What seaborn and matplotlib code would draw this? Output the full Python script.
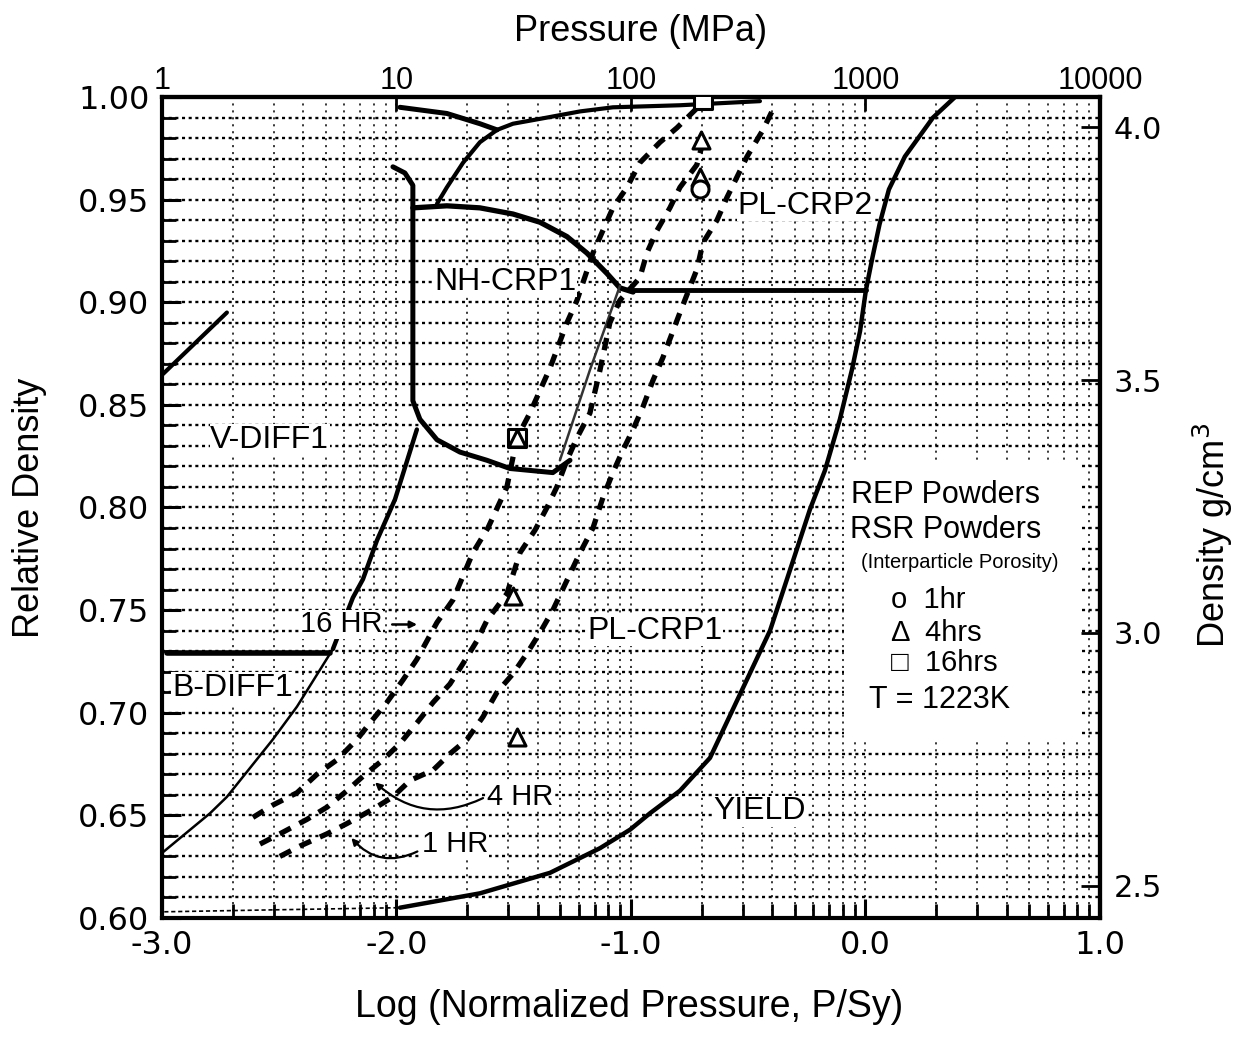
import numpy as np
import pandas as pd
import seaborn as sns
import matplotlib.pyplot as plt
from matplotlib.ticker import FixedLocator, MultipleLocator, FuncFormatter
from matplotlib.patches import Rectangle

sns.set_style("white")
plt.rcParams['font.family'] = ['Liberation Sans', 'DejaVu Sans']
plt.rcParams['lines.scale_dashes'] = False
for k in ['text.color', 'axes.labelcolor', 'xtick.color', 'ytick.color']:
    plt.rcParams[k] = 'black'

RHO_TH = 4.06  # g/cm3 at full density

# ---- curves: x = log10(P/Sy), y = relative density ----
yield_x = [-1.985, -1.644, -1.345, -1.132, -1.004, -0.919, -0.791, -0.663, -0.535, -0.407,
           -0.309, -0.237, -0.173, -0.109, -0.058, -0.023, 0.002, 0.030, 0.060, 0.100, 0.168,
           0.288, 0.382]
yield_y = [0.605, 0.612, 0.622, 0.634, 0.643, 0.651, 0.662, 0.678, 0.709, 0.740,
           0.774, 0.799, 0.818, 0.843, 0.867, 0.886, 0.906, 0.922, 0.938, 0.955, 0.971,
           0.990, 1.000]
yield_tail_x = [-2.99, -2.5, -1.985]
yield_tail_y = [0.603, 0.604, 0.605]

plcrp2_x = [-0.991, 0.002]
plcrp2_y = [0.906, 0.906]

dome_x = [-1.930, -1.785, -1.644, -1.503, -1.388, -1.273, -1.188, -1.102, -1.047, -0.991]
dome_y = [0.946, 0.947, 0.946, 0.943, 0.939, 0.932, 0.924, 0.914, 0.907, 0.905]

nh_low_x = [-2.015, -1.964, -1.930, -1.930, -1.900, -1.827, -1.729, -1.614, -1.516, -1.333, -1.260]
nh_low_y = [0.966, 0.963, 0.957, 0.852, 0.843, 0.833, 0.827, 0.823, 0.819, 0.817, 0.823]

hatch_x = [-1.047, -1.175, -1.303]
hatch_y = [0.908, 0.867, 0.823]

vdiff_x = [-1.913, -2.006, -2.083, -2.143, -2.186, -2.271]
vdiff_y = [0.838, 0.804, 0.784, 0.765, 0.756, 0.731]
bdiff_edge_x = [-2.271, -2.424, -2.527, -2.723, -2.795, -2.996]
bdiff_edge_y = [0.731, 0.703, 0.687, 0.659, 0.651, 0.632]
bdiff_x = [-2.98, -2.284]
bdiff_y = [0.729, 0.729]
vtop_x = [-2.996, -2.723]
vtop_y = [0.865, 0.895]

topA_x = [-1.985, -1.785, -1.644, -1.571]
topA_y = [0.995, 0.992, 0.987, 0.984]
topB_x = [-1.827, -1.785, -1.716, -1.644, -1.571, -1.503, -1.358, -1.217, -1.077, -0.791, -0.45]
topB_y = [0.948, 0.956, 0.968, 0.978, 0.984, 0.987, 0.990, 0.993, 0.995, 0.996, 0.998]

hr16_x = [-2.612, -2.527, -2.424, -2.339, -2.254, -2.168, -2.113, -2.041, -1.972, -1.913, -1.827,
          -1.759, -1.674, -1.610, -1.529, -1.486, -1.431, -1.345, -1.273, -1.230, -1.162, -1.077,
          -1.017, -0.962, -0.876, -0.804, -0.706]
hr16_y = [0.649, 0.655, 0.661, 0.670, 0.677, 0.687, 0.695, 0.705, 0.716, 0.726, 0.744,
          0.755, 0.778, 0.790, 0.810, 0.834, 0.846, 0.868, 0.890, 0.901, 0.924, 0.946,
          0.956, 0.968, 0.978, 0.985, 0.996]
hr4_x = [-2.582, -2.497, -2.382, -2.296, -2.211, -2.143, -2.058, -1.985, -1.913, -1.844, -1.772,
         -1.716, -1.657, -1.614, -1.529, -1.473, -1.409, -1.358, -1.316, -1.273, -1.230, -1.175,
         -1.132, -1.090, -1.047, -0.962, -0.932, -0.889, -0.834, -0.791, -0.719, -0.693]
hr4_y = [0.636, 0.641, 0.648, 0.654, 0.662, 0.669, 0.677, 0.685, 0.695, 0.705, 0.714,
         0.724, 0.735, 0.745, 0.758, 0.778, 0.789, 0.800, 0.810, 0.823, 0.834, 0.846,
         0.867, 0.890, 0.901, 0.912, 0.924, 0.935, 0.946, 0.956, 0.967, 0.978]
hr1_x = [-2.497, -2.412, -2.296, -2.211, -2.100, -2.015, -1.942, -1.844, -1.772, -1.699, -1.631,
         -1.571, -1.503, -1.443, -1.388, -1.333, -1.217, -1.162, -1.119, -1.077, -1.034, -0.991,
         -0.949, -0.906, -0.864, -0.791, -0.719, -0.693, -0.633, -0.591, -0.505, -0.437, -0.386]
hr1_y = [0.630, 0.635, 0.641, 0.646, 0.653, 0.659, 0.667, 0.672, 0.680, 0.687, 0.698,
         0.710, 0.719, 0.729, 0.739, 0.750, 0.778, 0.790, 0.805, 0.817, 0.828, 0.838,
         0.849, 0.862, 0.873, 0.895, 0.916, 0.929, 0.940, 0.951, 0.971, 0.984, 0.996]

# experimental points
tri_x = [-1.486, -1.503, -1.486, -0.702, -0.706]
tri_y = [0.834, 0.757, 0.688, 0.979, 0.961]
sq_x = [-1.486, -0.693]
sq_y = [0.834, 0.9985]
circ_x = [-0.706]
circ_y = [0.955]

x_major = [-3.0, -2.0, -1.0, 0.0, 1.0]
x_minor = [d + np.log10(k) for d in range(-3, 1) for k in range(2, 10)]
y_major = [0.60, 0.65, 0.70, 0.75, 0.80, 0.85, 0.90, 0.95, 1.00]
dens_ticks = [2.5, 3.0, 3.5, 4.0]
mpa_ticks = [0, 1, 2, 3, 4]

fig = plt.figure(figsize=(12.39, 10.39), dpi=100)
ax = fig.add_axes([0.1307, 0.1165, 0.7571, 0.7901])


def curve(xs, ys, lw, ls='-', color='black', z=3):
    df = pd.DataFrame({'x': xs, 'y': ys})
    sns.lineplot(data=df, x='x', y='y', sort=False, estimator=None, color=color,
                 lw=lw, linestyle=ls, ax=ax, zorder=z, solid_capstyle='round',
                 dash_capstyle='butt')


# legend box white background (drawn first)
ax.add_patch(Rectangle((-0.09, 0.686), 1.0, 0.137, fc='white', ec='none', zorder=1.5))

curve(yield_x, yield_y, 3.2)
curve(yield_tail_x, yield_tail_y, 1.2, ls=(0, (3, 2)))
curve(plcrp2_x, plcrp2_y, 3.5)
curve(dome_x, dome_y, 3.8)
curve(nh_low_x, nh_low_y, 3.6)
curve(hatch_x, hatch_y, 1.8, color='#333333')
curve(vdiff_x, vdiff_y, 3.2)
curve(bdiff_edge_x, bdiff_edge_y, 1.8)
curve(bdiff_x, bdiff_y, 4.0)
curve(vtop_x, vtop_y, 3.0)
curve(topA_x, topA_y, 3.6)
curve(topB_x, topB_y, 3.0)
dash = (0, (9, 7))
curve(hr16_x, hr16_y, 3.8, ls=dash)
curve(hr4_x, hr4_y, 3.8, ls=dash)
curve(hr1_x, hr1_y, 3.8, ls=dash)

mk = dict(facecolor='white', edgecolor='black', linewidth=2.2, s=150, zorder=5, ax=ax)
sns.scatterplot(x=sq_x, y=sq_y, marker='s', **mk)
sns.scatterplot(x=tri_x, y=tri_y, marker='^', **mk)
sns.scatterplot(x=circ_x, y=circ_y, marker='o', **mk)

ax.set_xlim(-3.0, 1.0)
ax.set_ylim(0.60, 1.00)
ax.set_xlabel('')
ax.set_ylabel('')

# grid
ax.xaxis.set_major_locator(FixedLocator(x_major))
ax.xaxis.set_minor_locator(FixedLocator(x_minor))
ax.yaxis.set_major_locator(FixedLocator(y_major))
ax.yaxis.set_minor_locator(MultipleLocator(0.01))
ax.xaxis.grid(True, which='both', color='black', lw=1.1, ls=(0, (1.5, 3.5)))
ax.yaxis.grid(True, which='both', color='black', lw=1.7, ls=(0, (2.2, 2.6)))
ax.set_axisbelow(True)

ax.xaxis.set_major_formatter(FuncFormatter(lambda v, p: '%.1f' % v))
ax.yaxis.set_major_formatter(FuncFormatter(lambda v, p: '%.2f' % v))
ax.tick_params(axis='both', which='major', direction='in', length=14, width=2.2,
               labelsize=23, pad=9)
ax.tick_params(axis='both', which='minor', direction='in', length=10, width=2.0)
ax.tick_params(axis='y', which='both', right=False, left=True)
ax.tick_params(axis='x', which='both', top=False, bottom=True)
for lab in ax.get_xticklabels() + ax.get_yticklabels():
    lab.set_family('DejaVu Sans')

for s in ax.spines.values():
    s.set_linewidth(3.0)
    s.set_color('black')

# top axis: pressure in MPa
top = ax.secondary_xaxis('top', functions=(lambda v: v + 3.0, lambda v: v - 3.0))
top.set_xticks(mpa_ticks)
top.xaxis.set_major_formatter(FuncFormatter(lambda v, p: '%d' % round(10 ** v)))
top.tick_params(direction='in', length=10, width=2, labelsize=22, pad=1)
top.spines['top'].set_linewidth(3.0)

# right axis: density
right = ax.secondary_yaxis('right', functions=(lambda r: r * RHO_TH, lambda d: d / RHO_TH))
right.set_yticks(dens_ticks)
right.yaxis.set_major_formatter(FuncFormatter(lambda v, p: '%.1f' % v))
right.tick_params(direction='in', length=14, width=2, labelsize=22, pad=10)
for lab in right.get_yticklabels():
    lab.set_family('DejaVu Sans')
right.spines['right'].set_linewidth(3.0)

fig.text(0.508, 0.031, 'Log (Normalized Pressure, P/Sy)', ha='center', va='center', fontsize=27)
fig.text(0.517, 0.970, 'Pressure (MPa)', ha='center', va='center', fontsize=26)
fig.text(0.024, 0.511, 'Relative Density', ha='center', va='center', rotation=90, fontsize=26)
fig.text(0.979, 0.485, 'Density g/cm$^3$', ha='center', va='center', rotation=90, fontsize=26)

wb = dict(fc='white', ec='none', pad=0.5)
tk = dict(ha='center', va='center', zorder=6, fontsize=23)
ax.text(-0.258, 0.947, 'PL-CRP2', bbox=wb, **tk)
ax.text(-1.537, 0.910, 'NH-CRP1', bbox=wb, **tk)
ax.text(-2.54, 0.833, 'V-DIFF1', bbox=wb, **tk)
ax.text(-0.898, 0.740, 'PL-CRP1', bbox=wb, **tk)
ax.text(-2.70, 0.712, 'B-DIFF1', bbox=wb, **tk)
ax.text(-0.45, 0.652, 'YIELD', bbox=wb, **tk)
ax.text(-2.235, 0.743, '16 HR', bbox=wb, ha='center', va='center', zorder=6, fontsize=21)
ax.annotate('', xy=(-1.90, 0.743), xytext=(-2.03, 0.743), zorder=6,
            arrowprops=dict(arrowstyle='-|>', color='black', lw=1.8))
ax.text(-1.473, 0.659, '4 HR', bbox=wb, ha='center', va='center', zorder=6, fontsize=21)
ax.annotate('', xy=(-2.10, 0.667), xytext=(-1.62, 0.659), zorder=6,
            arrowprops=dict(arrowstyle='-|>', color='black', lw=1.6,
                            connectionstyle='arc3,rad=-0.35'))
ax.text(-1.75, 0.636, '1 HR', bbox=wb, ha='center', va='center', zorder=6, fontsize=21)
ax.annotate('', xy=(-2.20, 0.640), xytext=(-1.90, 0.633), zorder=6,
            arrowprops=dict(arrowstyle='-|>', color='black', lw=1.6,
                            connectionstyle='arc3,rad=-0.4'))

# legend box text
ax.text(0.343, 0.806, 'REP Powders', ha='center', va='center', fontsize=22, zorder=6)
ax.text(0.343, 0.789, 'RSR Powders', ha='center', va='center', fontsize=22, zorder=6)
ax.text(0.40, 0.773, '(Interparticle Porosity)', ha='center', va='center', fontsize=14.5, zorder=6)
ax.text(0.11, 0.755, 'o  1hr', ha='left', va='center', fontsize=21, zorder=6)
ax.text(0.11, 0.739, '\u0394  4hrs', ha='left', va='center', fontsize=21, zorder=6,
        family=['Liberation Sans', 'DejaVu Sans'])
ax.text(0.11, 0.724, '\u25a1  16hrs', ha='left', va='center', fontsize=21, zorder=6,
        family=['Liberation Sans', 'DejaVu Sans'])
ax.text(0.318, 0.706, 'T = 1223K', ha='center', va='center', fontsize=22, zorder=6)

fig.savefig('out.png', dpi=100)
